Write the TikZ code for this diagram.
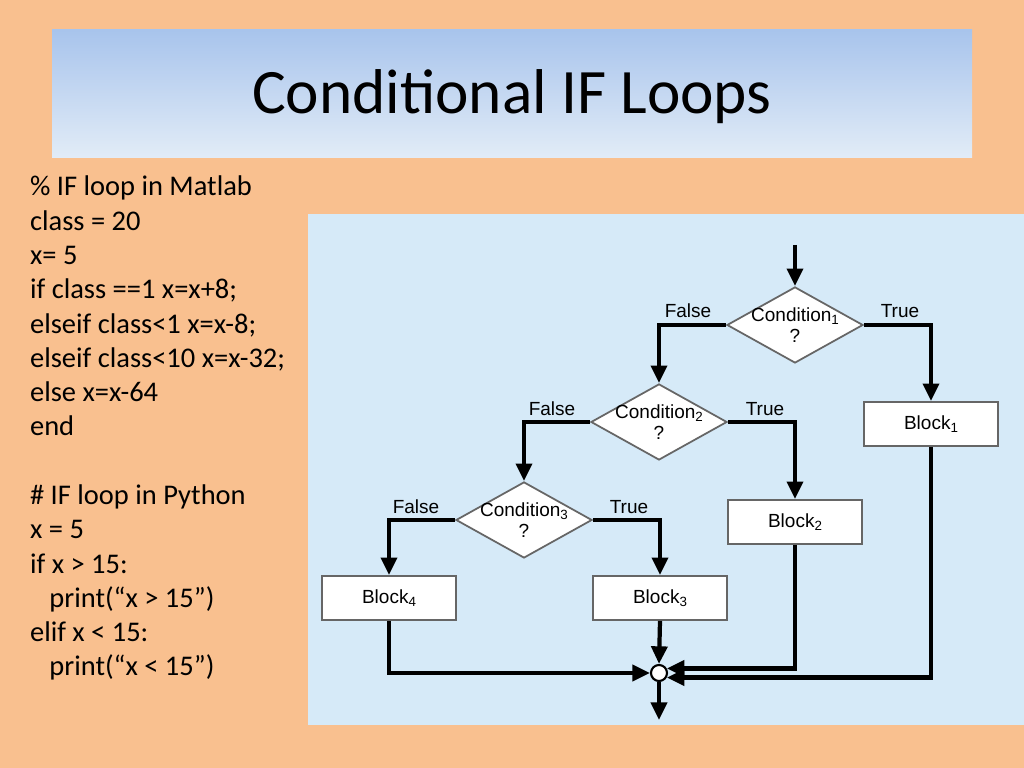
\documentclass[tikz,border=0pt]{standalone}
\usepackage{fontspec}
\setmainfont{Carlito}
\newfontfamily\chartfont{Liberation Sans}
\usetikzlibrary{shapes.geometric,arrows.meta,positioning}
\definecolor{peach}{HTML}{F9C08F}
\definecolor{panel}{HTML}{D6EAF8}
\definecolor{titletop}{HTML}{A8C4EC}
\definecolor{titlebot}{HTML}{E2ECF7}
\newcommand\lowidx[1]{\raisebox{-0.9pt}{\fontsize{3.8}{4}\selectfont #1}}

\begin{document}
\begin{tikzpicture}[x=0.01cm,y=-0.01cm,line width=1.2pt,
    >={Triangle[length=5pt,width=4.5pt]}]
    \tikzstyle{cond}=[diamond,draw=black!60,fill=white,line width=0.5pt,aspect=1.8,
        minimum width=1.36cm,minimum height=0.76cm,inner sep=-1.5pt,align=center,
        font=\chartfont\fontsize{5.4}{6}\selectfont]
    \tikzstyle{blockbox}=[rectangle,draw=black!60,fill=white,line width=0.5pt,
        minimum width=1.34cm,minimum height=0.44cm,font=\chartfont\fontsize{5.4}{6}\selectfont]
    \tikzstyle{lbl}=[font=\chartfont\fontsize{5.4}{6}\selectfont]

    % background, title bar and chart panel
    \fill[peach] (0,0) rectangle (1024,768);
    \shade[top color=titletop,bottom color=titlebot] (52,30) rectangle (972,158);
    \node[font=\fontsize{18}{22}\selectfont] (title) at (512,97) {Conditional IF Loops};
    \fill[panel] (308,214) rectangle (1024,725);

    % code listing
    \node[anchor=north west,align=left,inner sep=0pt,font=\fontsize{8.1}{9.75}\selectfont] (code) at (28,174)
        {\% IF loop in Matlab\\ class = 20\\ x= 5\\ if class ==1 x=x+8;\\
         elseif class<1 x=x-8;\\ elseif class<10 x=x-32;\\ else x=x-64\\ end\\[9.75pt]
         \# IF loop in Python\\ x = 5\\ if x > 15:\\ \ \ \ print(“x > 15”)\\
         elif x < 15:\\ \ \ \ print(“x < 15”)};

    % decisions and blocks
    \node[cond] (C1) at (795,325) {Condition\lowidx{1}\\?};
    \node[cond] (C2) at (659,422) {Condition\lowidx{2}\\?};
    \node[cond] (C3) at (524,520) {Condition\lowidx{3}\\?};
    \node[blockbox] (B1) at (931,424) {Block\lowidx{1}};
    \node[blockbox] (B2) at (795,522) {Block\lowidx{2}};
    \node[blockbox] (B3) at (660,598) {Block\lowidx{3}};
    \node[blockbox] (B4) at (389,598) {Block\lowidx{4}};
    \node[circle,draw=black,fill=white,line width=0.6pt,minimum size=0.16cm,inner sep=0pt] (J) at (659,673) {};
    \coordinate (start) at (795,245);
    \coordinate (stop) at (659,720);

    % branch labels
    \node[lbl] (f1) at (688,311) {False};
    \node[lbl] (t1) at (900,311) {True};
    \node[lbl] (f2) at (552,409) {False};
    \node[lbl] (t2) at (765,409) {True};
    \node[lbl] (f3) at (416,507) {False};
    \node[lbl] (t3) at (629,507) {True};

    % connectors
    \draw[->] (start) -- (C1.north);
    \draw[->] (C1.west) -| (C2.north);
    \draw[->] (C1.east) -| (B1.north);
    \draw[->] (C2.west) -| (C3.north);
    \draw[->] (C2.east) -| (B2.north);
    \draw[->] (C3.west) -| (B4.north);
    \draw[->] (C3.east) -| (B3.north);
    \draw[->] (B3.south) -- (J.north);
    \draw[->] (B4.south) |- (J.west);
    \draw[->] (B2.south) |- (J.30);
    \draw[->] (B1.south) |- (J.-30);
    \draw[->] (J.south) -- (stop);
\end{tikzpicture}
\end{document}
